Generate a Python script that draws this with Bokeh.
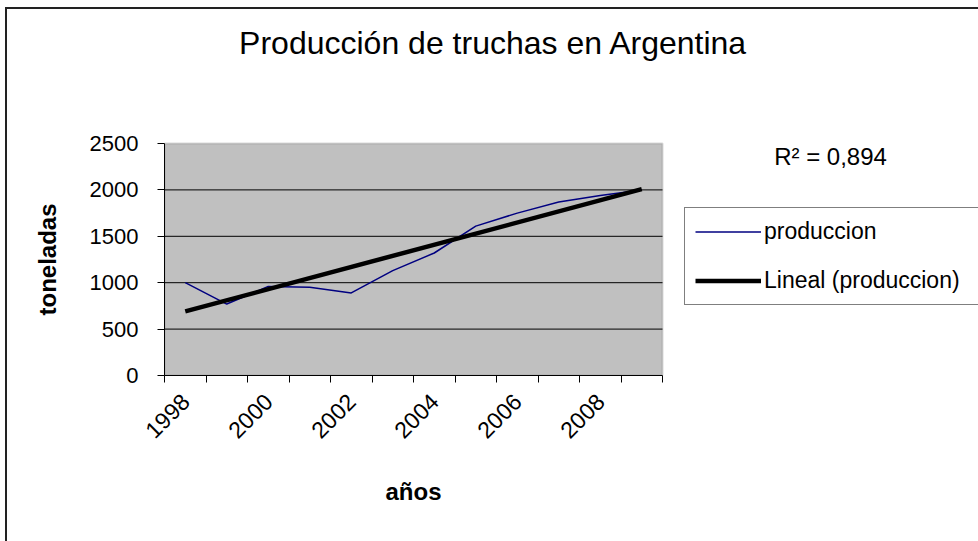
import numpy as np
from math import pi
from bokeh.plotting import figure
from bokeh.models import (Range1d, FixedTicker, LinearAxis, Legend, LegendItem,
                          Label, BoxAnnotation, CustomJSTickFormatter)
from bokeh.embed import file_html
from bokeh.resources import INLINE

# ---- data ----
years = [1998, 1999, 2000, 2001, 2002, 2003, 2004, 2005, 2006, 2007, 2008, 2009]
produccion = [1000, 770, 960, 950, 890, 1130, 1320, 1610, 1750, 1870, 1940, 2000]
label_years = [1998, 2000, 2002, 2004, 2006, 2008]
year_labels = ["1998", "2000", "2002", "2004", "2006", "2008"]
y_ticks = [0, 500, 1000, 1500, 2000, 2500]
title_text = "Producción de truchas en Argentina"
x_title = "años"
y_title = "toneladas"
r2_text = "R² = 0,894"
series_name = "produccion"
trend_name = "Lineal (produccion)"

# linear trend (as Excel's linear trendline)
coef = np.polyfit(years, produccion, 1)
trend_x = [years[0], years[-1]]
trend_y = list(np.polyval(coef, trend_x))

FONT = "Liberation Sans"

# ---- page geometry (pixels) ----
W, H = 978, 541
FRAME_LEFT = 164          # plot area left (y axis position)
PLOT_RIGHT = 662          # plot area right edge
PLOT_TOP = 143            # plot area top edge
PLOT_BOTTOM = 375         # plot area bottom (x axis position)

x_start = years[0] - 0.5
x_plot_end = years[-1] + 0.5
cat_px = (PLOT_RIGHT - FRAME_LEFT) / (x_plot_end - x_start)
y_plot_end = y_ticks[-1]
unit_px = (PLOT_BOTTOM - PLOT_TOP) / (y_plot_end - y_ticks[0])
x_mid = (x_start + x_plot_end) / 2
y_mid = (y_ticks[0] + y_plot_end) / 2

def X(px):
    return x_start + (px - FRAME_LEFT) / cat_px

def Y(py):
    return (PLOT_BOTTOM - py) / unit_px

# frame extends to the right and top edges of the page so that the
# title, R² text and legend can live inside it
p = figure(width=W, height=H,
           x_range=Range1d(x_start, X(W)),
           y_range=Range1d(y_ticks[0], Y(0)),
           x_axis_type=None, y_axis_type=None,
           output_backend="svg", toolbar_location=None,
           min_border=0, min_border_left=FRAME_LEFT, min_border_right=0,
           min_border_top=0, min_border_bottom=H - PLOT_BOTTOM)
p.background_fill_color = None
p.border_fill_color = None
p.outline_line_color = None
p.styles = {
    "background-color": "white",
    "background-image": "linear-gradient(#222, #222), linear-gradient(#222, #222)",
    "background-repeat": "no-repeat",
    "background-size": "2px 100%, 100% 2px",
    "background-position": "5px 7px, 5px 7px",
}

# grey plot area with its grey outline
p.add_layout(BoxAnnotation(left=x_start, right=x_plot_end,
                           bottom=y_ticks[0], top=y_plot_end,
                           fill_color="#C0C0C0", fill_alpha=1,
                           line_color="#808080", line_width=2,
                           level="underlay"))

# horizontal grid lines
grid_y = y_ticks[1:-1]
p.segment(x0=[x_start] * len(grid_y), x1=[x_plot_end] * len(grid_y),
          y0=grid_y, y1=grid_y, line_color="black", line_width=1)

# y axis
yaxis = LinearAxis(ticker=FixedTicker(ticks=y_ticks), bounds=(y_ticks[0], y_plot_end),
                   axis_line_color="black", axis_line_width=1,
                   major_tick_out=7, major_tick_in=0,
                   major_tick_line_color="black",
                   minor_tick_line_color=None,
                   major_label_standoff=19,
                   major_label_text_font=FONT, major_label_text_font_size="22px",
                   major_label_text_color="black")
p.add_layout(yaxis, "left")

# y axis title, centred on the plot area
ytitle_axis = LinearAxis(ticker=FixedTicker(ticks=[y_mid]), bounds=(y_ticks[0], y_plot_end),
                         formatter=CustomJSTickFormatter(args=dict(t=y_title), code="return t"),
                         axis_line_color=None, major_tick_line_color=None,
                         minor_tick_line_color=None,
                         major_tick_out=0, major_tick_in=0,
                         major_label_orientation="parallel",
                         major_label_standoff=26,
                         major_label_text_font=FONT, major_label_text_font_size="24px",
                         major_label_text_font_style="bold",
                         major_label_text_color="black")
p.add_layout(ytitle_axis, "left")

# x axis: category boundary ticks
boundaries = [y - 0.5 for y in years] + [years[-1] + 0.5]
xaxis1 = LinearAxis(ticker=FixedTicker(ticks=boundaries), bounds=(x_start, x_plot_end),
                    axis_line_color="black", axis_line_width=1,
                    major_tick_out=7, major_tick_in=0,
                    major_tick_line_color="black",
                    minor_tick_line_color=None,
                    major_label_standoff=0,
                    major_label_text_font_size="1px",
                    major_label_text_alpha=0)
p.add_layout(xaxis1, "below")

# x axis: year labels at category centres
xaxis2 = LinearAxis(ticker=FixedTicker(ticks=label_years), bounds=(x_start, x_plot_end),
                    major_label_overrides=dict(zip(label_years, year_labels)),
                    axis_line_color=None, major_tick_line_color=None,
                    minor_tick_line_color=None,
                    major_tick_out=0, major_tick_in=0,
                    major_label_orientation=pi / 4,
                    major_label_standoff=15,
                    major_label_text_font=FONT, major_label_text_font_size="23px",
                    major_label_text_color="black")
p.add_layout(xaxis2, "below")

# x axis title, centred on the plot area
xtitle_axis = LinearAxis(ticker=FixedTicker(ticks=[x_mid]), bounds=(x_start, x_plot_end),
                         formatter=CustomJSTickFormatter(args=dict(t=x_title), code="return t"),
                         axis_line_color=None, major_tick_line_color=None,
                         minor_tick_line_color=None,
                         major_tick_out=0, major_tick_in=0,
                         major_label_standoff=29,
                         major_label_text_font=FONT, major_label_text_font_size="24px",
                         major_label_text_font_style="bold",
                         major_label_text_color="black")
p.add_layout(xtitle_axis, "below")

r1 = p.line(years, produccion, line_color="#000080", line_width=1.5)
r2 = p.line(trend_x, trend_y, line_color="black", line_width=4.5)

legend = Legend(items=[LegendItem(label=series_name, renderers=[r1]),
                       LegendItem(label=trend_name, renderers=[r2])],
                location=(684 - FRAME_LEFT, PLOT_BOTTOM - 305),
                orientation="vertical",
                padding=10, margin=0, spacing=22,
                glyph_width=66, glyph_height=25, label_height=25,
                label_width=207, label_standoff=3,
                label_text_font=FONT, label_text_font_size="23px",
                label_text_color="black",
                border_line_color="black", border_line_width=1.2,
                background_fill_color="white", background_fill_alpha=1)
p.add_layout(legend)

p.add_layout(Label(x=X(493), y=Y(42), text=title_text,
                   text_align="center", text_baseline="alphabetic",
                   text_font=FONT, text_font_size="32px", text_color="black"))
p.add_layout(Label(x=X(830), y=Y(156), text=r2_text,
                   text_align="center", text_baseline="alphabetic",
                   text_font=FONT, text_font_size="24px", text_color="black"))

open("out.html", "w").write(file_html(p, INLINE))
